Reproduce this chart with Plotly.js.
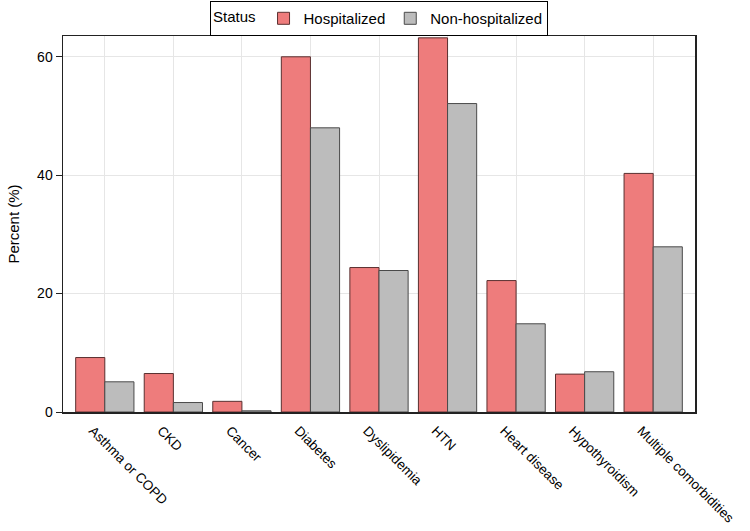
<!DOCTYPE html>
<html>
<head>
<meta charset="utf-8">
<script src="https://cdn.plot.ly/plotly-3.0.1.min.js"></script>
<style>html,body{margin:0;padding:0;background:#fff}#chart{width:750px;height:531px}</style>
</head>
<body>
<div id="chart"></div>
<script>
const categories = ["Asthma or COPD","CKD","Cancer","Diabetes","Dyslipidemia","HTN","Heart disease","Hypothyroidism","Multiple comorbidities"];
const hospitalized = [9.2, 6.5, 1.8, 60.0, 24.4, 63.2, 22.2, 6.4, 40.3];
const nonHospitalized = [5.1, 1.6, 0.2, 48.0, 23.9, 52.1, 14.9, 6.8, 27.9];
const seriesNames = ["Hospitalized", "Non-hospitalized"];
const yTicks = [0, 20, 40, 60];

const font = {family: "Liberation Sans, Arial, sans-serif", size: 14, color: "#000"};

const traces = [
  {type: "bar", name: seriesNames[0], x: categories, y: hospitalized,
   marker: {color: "#EE7C7C", line: {color: "#5a3030", width: 1}}},
  {type: "bar", name: seriesNames[1], x: categories, y: nonHospitalized,
   marker: {color: "#BCBCBC", line: {color: "#4a4a4a", width: 1}}}
];

const layout = {
  width: 750, height: 531,
  margin: {l: 63, r: 55, t: 35, b: 119},
  font: font,
  paper_bgcolor: "#fff", plot_bgcolor: "#fff",
  barmode: "group", bargap: 0.15, bargroupgap: 0,
  showlegend: true,
  legend: {
    orientation: "h", x: 0.5, xanchor: "center", yref: "container", y: 0.998, yanchor: "top",
    bordercolor: "#000", borderwidth: 1, font: {size: 15},
    title: {text: "Status", font: {size: 15}, side: "left"},
    tracegroupgap: 0
  },
  xaxis: {
    type: "category", range: [-0.61, 8.61],
    showline: true, linecolor: "#222", linewidth: 1.5, mirror: true,
    showgrid: true, gridcolor: "#e6e6e6",
    ticks: "", tickangle: 45, tickfont: {size: 13.5},
    ticklabelshift: -12, ticklabelstandoff: 4,
    zeroline: false
  },
  yaxis: {
    range: [0, 63.5], tickvals: yTicks, ticktext: yTicks.map(String),
    showline: true, linecolor: "#222", linewidth: 1.5, mirror: true,
    ticks: "outside", ticklen: 6, tickcolor: "#222",
    showgrid: true, gridcolor: "#e6e6e6", zeroline: false,
    tickfont: {size: 14},
    title: {text: "Percent (%)", font: {size: 15}, standoff: 14}
  }
};

Plotly.newPlot("chart", traces, layout, {displayModeBar: false, staticPlot: true});
</script>
</body>
</html>
